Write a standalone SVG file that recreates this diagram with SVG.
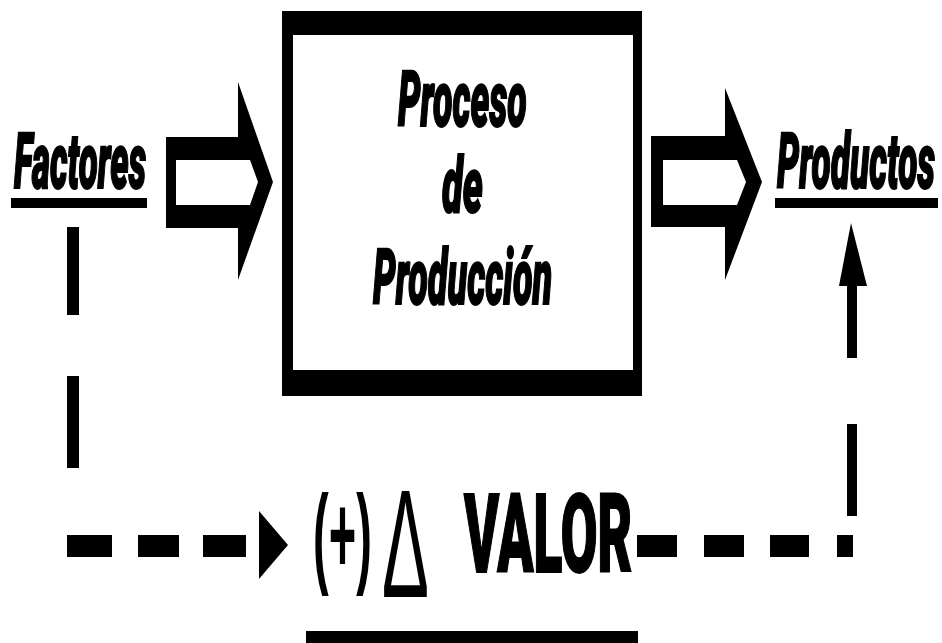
<svg xmlns="http://www.w3.org/2000/svg" width="942" height="643" viewBox="0 0 942 643">
  <style>
    .t { font-family: Roboto, "Liberation Sans", Arial, sans-serif; font-weight: 900; fill: #000; stroke: #000; stroke-width: 2; }
    .it { font-style: italic; font-size: 78px; }
    .big { font-size: 110px; }
    .k { fill: #000; }
  </style>
  <rect width="942" height="643" fill="#fff"/>

  <g id="connectors">
    <!-- block arrow Factores -> Proceso -->
    <path class="k" fill-rule="evenodd" d="M166,137 L238,137 L238,82 L273,182 L238,280 L238,228 L166,228 Z M176,160 L250,160 L258,182 L250,205 L176,205 Z"/>
    <!-- block arrow Proceso -> Productos -->
    <path class="k" fill-rule="evenodd" d="M651,136 L725,136 L725,88 L762,182 L725,280 L725,227 L651,227 Z M663,160 L737,160 L746,182 L737,205 L663,205 Z"/>
    <!-- dashed Factores -> VALOR -->
    <rect class="k" x="67" y="227" width="12" height="88"/>
    <rect class="k" x="67" y="376" width="12" height="92"/>
    <rect class="k" x="67" y="535" width="45" height="22"/>
    <rect class="k" x="138" y="535" width="41" height="22"/>
    <rect class="k" x="203" y="535" width="43" height="22"/>
    <polygon class="k" points="259,511 288,545 259,579"/>
    <!-- dashed VALOR -> Productos -->
    <rect class="k" x="637" y="535" width="40" height="22"/>
    <rect class="k" x="704" y="535" width="40" height="22"/>
    <rect class="k" x="770" y="535" width="39" height="22"/>
    <rect class="k" x="837" y="535" width="16" height="22"/>
    <rect class="k" x="847" y="424" width="10" height="92"/>
    <rect class="k" x="847" y="284" width="10" height="74"/>
    <polygon class="k" points="851,223 867,286 839,286"/>
  </g>

  <g id="factores">
    <text class="t it" transform="translate(14,188) scale(0.4,1)" textLength="330" lengthAdjust="spacingAndGlyphs">Factores</text>
    <rect class="k" x="11" y="198" width="136" height="10"/>
  </g>

  <g id="proceso">
    <path class="k" fill-rule="evenodd" d="M282,11 H642 V396 H282 Z M293,35 V370 H633 V35 Z"/>
    <text class="t it" transform="translate(398,126) scale(0.4,1)" textLength="322" lengthAdjust="spacingAndGlyphs">Proceso</text>
    <text class="t it" transform="translate(442,212) scale(0.4,1)" textLength="102" lengthAdjust="spacingAndGlyphs">de</text>
    <text class="t it" transform="translate(373,304) scale(0.4,1)" textLength="448" lengthAdjust="spacingAndGlyphs">Producción</text>
  </g>

  <g id="productos">
    <text class="t it" transform="translate(777,188) scale(0.4,1)" textLength="395" lengthAdjust="spacingAndGlyphs">Productos</text>
    <rect class="k" x="775" y="198" width="163" height="10"/>
  </g>

  <g id="valor">
    <text transform="translate(313,573) scale(0.42,1)" font-family="Liberation Sans, Arial, sans-serif" font-weight="bold" font-size="112" textLength="140" lengthAdjust="spacingAndGlyphs" fill="#000">(+)</text>
    <text transform="translate(382,597) scale(0.46,1)" font-family="Liberation Sans, Arial, sans-serif" font-size="154" textLength="102" lengthAdjust="spacingAndGlyphs" fill="#000">Δ</text>
    <text class="t big" transform="translate(464,572) scale(0.43,1)" textLength="391" lengthAdjust="spacingAndGlyphs">VALOR</text>
    <rect class="k" x="306" y="631" width="332" height="12"/>
  </g>
</svg>
